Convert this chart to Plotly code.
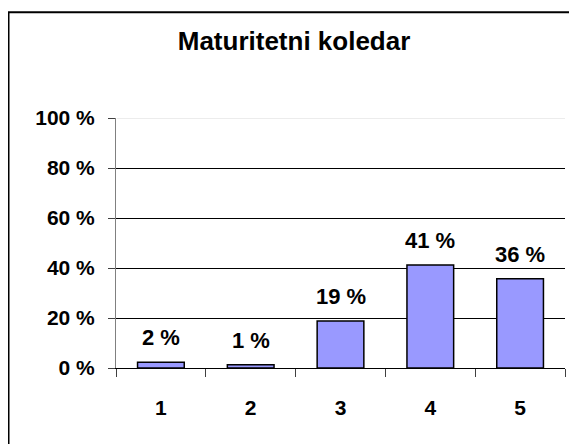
import plotly.graph_objects as go

title = "Maturitetni koledar"
categories = [1, 2, 3, 4, 5]
cat_labels = ["1", "2", "3", "4", "5"]
values = [2.3, 1.3, 18.8, 41.2, 35.7]
value_labels = ["2 %", "1 %", "19 %", "41 %", "36 %"]
y_ticks = [0, 20, 40, 60, 80, 100]
y_tick_labels = ["0 %", "20 %", "40 %", "60 %", "80 %", "100 %"]

FONT = "Liberation Sans, Arial, sans-serif"

fig = go.Figure()
fig.add_trace(go.Bar(
    x=categories, y=values, width=0.52,
    marker=dict(color="#9999FF", line=dict(color="#000000", width=1.5)),
    hoverinfo="skip",
))

for c, v, t in zip(categories, values, value_labels):
    fig.add_annotation(x=c, y=v, text=t, showarrow=False, yanchor="bottom",
                       yshift=10, font=dict(family=FONT, size=22, color="#000", weight="bold"))

fig.update_layout(
    width=577, height=444,
    margin=dict(l=108, r=20, t=109.5, b=83.5),
    paper_bgcolor="white", plot_bgcolor="white",
    showlegend=False,
    title=dict(text=title, x=0.4957, xanchor="center", y=0.9257, yanchor="middle",
               font=dict(family=FONT, size=26, color="#000", weight="bold")),
)

fig.update_xaxes(
    range=[0.5, 5.5], tickvals=categories, ticktext=cat_labels,
    ticks="", showgrid=False, zeroline=False,
    showline=True, linecolor="#000000", linewidth=1,
    tickfont=dict(family=FONT, size=21, color="#000", weight="bold"),
    ticklabelstandoff=21,
    minor=dict(tickvals=[0.5, 1.5, 2.5, 3.5, 4.5, 5.5], ticks="outside", ticklen=8,
               tickcolor="#404040", tickwidth=1, showgrid=False),
)

fig.update_yaxes(
    range=[0, 100], tickvals=y_ticks, ticktext=y_tick_labels,
    ticks="outside", ticklen=7, tickcolor="#404040", tickwidth=1,
    showgrid=True, gridcolor="#000000", gridwidth=1,
    zeroline=False, showline=True, linecolor="#808080", linewidth=1,
    tickfont=dict(family=FONT, size=21, color="#000", weight="bold"),
    ticklabelstandoff=9,
)

# top gridline rendered light in the reference
fig.add_shape(type="line", xref="paper", yref="y", x0=0.002, x1=1, y0=y_ticks[-1], y1=y_ticks[-1],
              line=dict(color="#E6E6E6", width=1.5), layer="above")

# outer chart border
fig.add_shape(type="rect", xref="paper", yref="paper",
              x0=-0.2394, x1=1.08, y0=-0.40, y1=1.4235,
              line=dict(color="#000000", width=2), fillcolor="rgba(0,0,0,0)", layer="above")

fig.write_html("out.html")
